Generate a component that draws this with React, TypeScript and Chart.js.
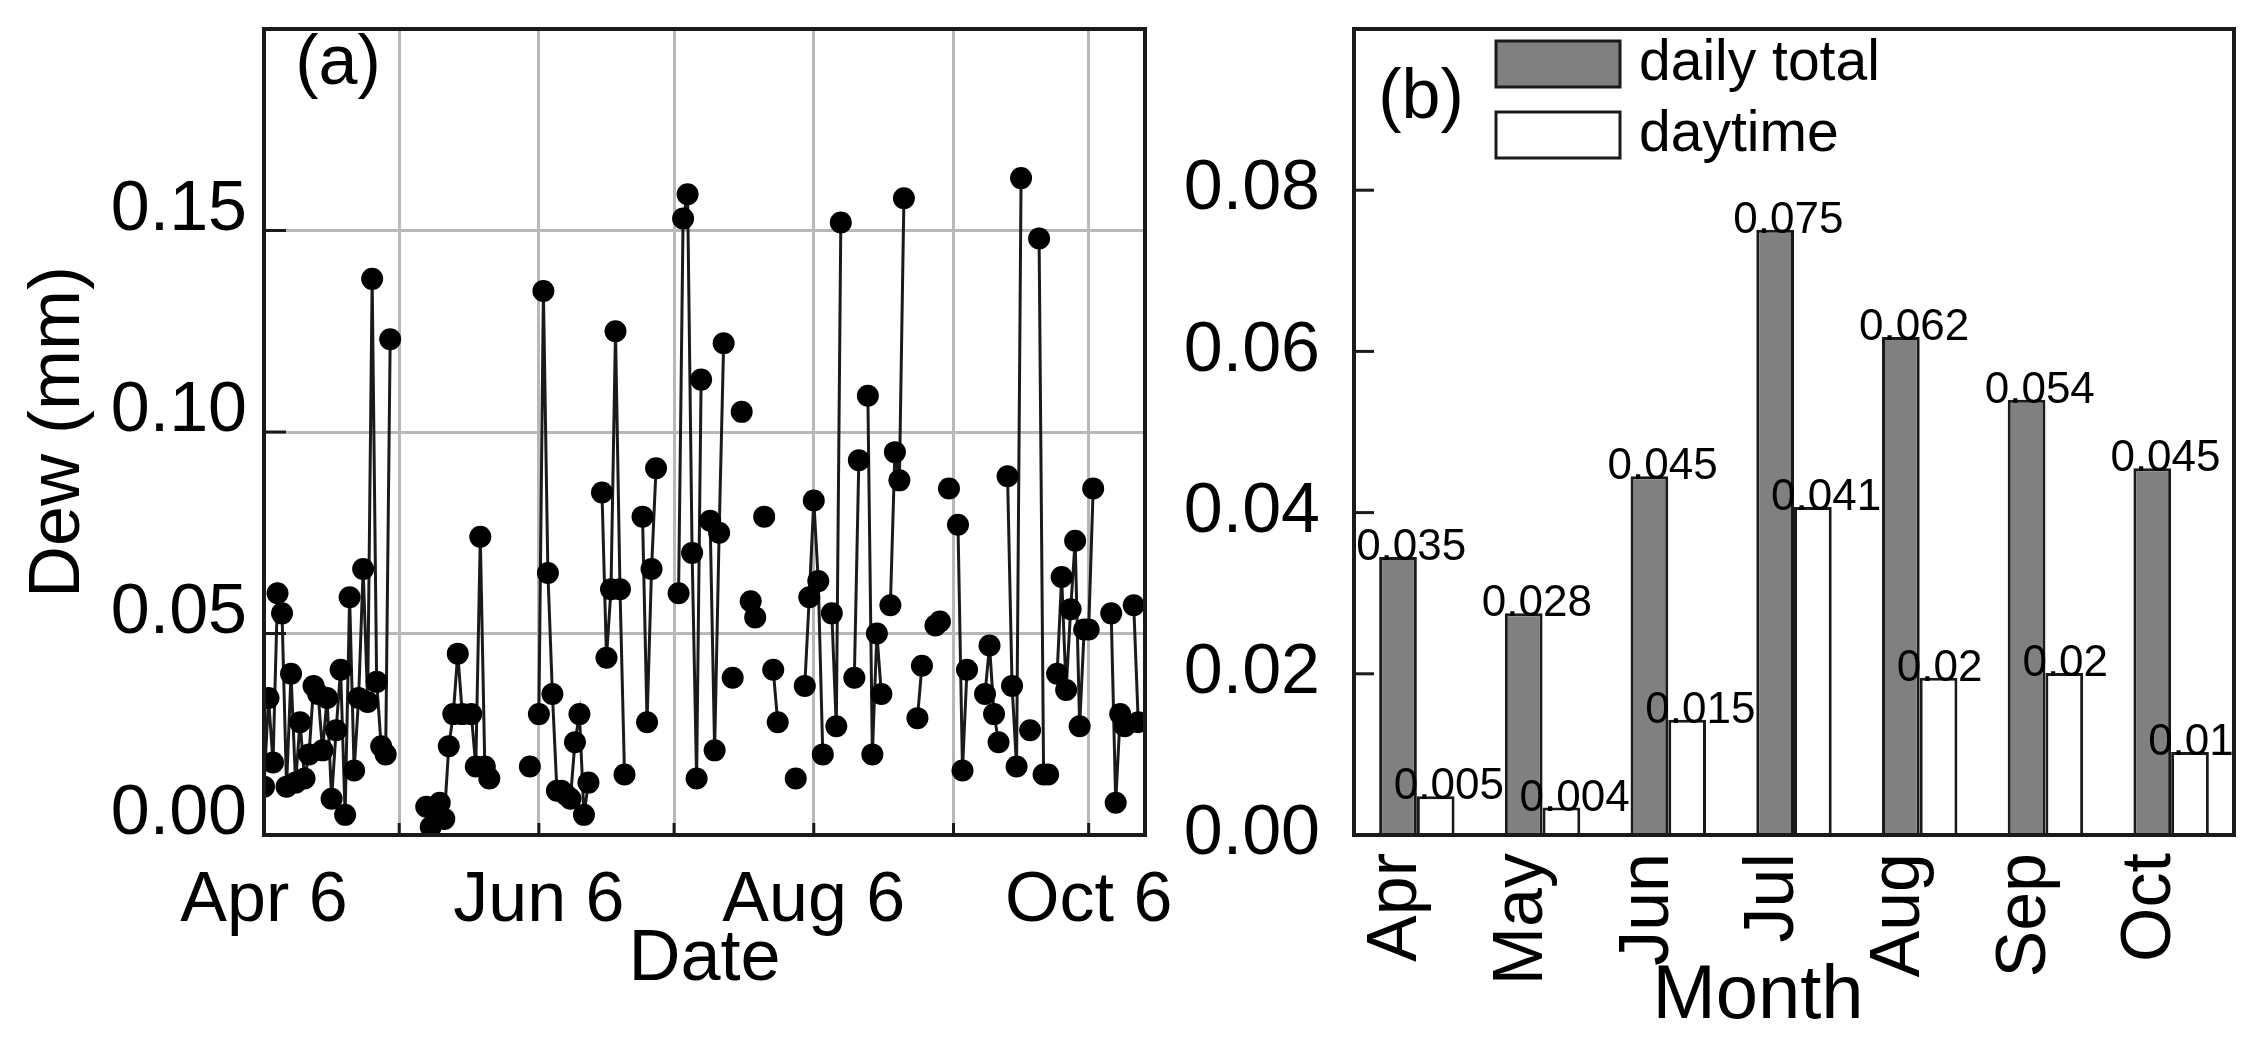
import { useEffect, useRef } from 'react';
import { Chart, registerables } from 'chart.js';

Chart.register(...registerables);

const FONT = "'Liberation Sans', Arial, sans-serif";
Chart.defaults.font.family = FONT;
Chart.defaults.color = '#000';

// (a) daily dew, day counted from Apr 6; null = no record (breaks the line)
const dewDay = [
  0, 1, 2, 3, 4, 5, 6, 7, 8, 9, 10, 11, 12, 13, 14, 15, 16, 17, 18, 19, 20, 21, 22, 23, 24, 25, 26, 27, 28, 29,
  36, 37, 38, 39, 40, 41, 42, 43, 44, 45, 46, 47, 48, 49, 50, 51,
  59, 60, 61, 62, 63, 64, 65, 66, 67, 68, 69, 70, 71, 72, 73,
  75, 76, 77, 78, 79, 80, 81, 84, 85, 86, 87, 88,
  92, 93, 94, 95, 96, 97, 98, 99, 100, 101, 102, 103, 104, 105, 106, 107, 108, 109, 110, 111, 112,
  113, 114, 115, 118, 119, 120, 121, 122, 123, 124, 125, 126, 127, 128, 129, 131, 132, 133,
  134, 135, 136, 137, 138, 139, 140, 141, 142, 143, 145, 146, 147, 149, 150, 151, 152, 153, 154, 155, 156, 157,
  160, 161, 162, 163, 164, 165, 166, 167, 168, 169, 170, 171, 172, 173, 174, 175,
  176, 177, 178, 179, 180, 181, 182, 183, 184, 185, 188, 189, 190, 191, 192, 193, 194,
];
const dewMm = [
  0.012, 0.034, 0.018, 0.06, 0.055, 0.012, 0.04, 0.013, 0.028, 0.014, 0.02, 0.037, 0.035, 0.021, 0.034, 0.009,
  0.026, 0.041, 0.005, 0.059, 0.016, 0.034, 0.066, 0.033, 0.138, 0.038, 0.022, 0.02, 0.123, null,
  0.007, 0.002, 0.007, 0.008, 0.004, 0.022, 0.03, 0.045, 0.03, null, 0.03, 0.017, 0.074, 0.017, 0.014, null,
  0.017, null, 0.03, 0.135, 0.065, 0.035, 0.011, 0.011, 0.01, 0.009, 0.023, 0.03, 0.005, 0.013, null,
  0.085, 0.044, 0.061, 0.125, 0.061, 0.015, null, 0.079, 0.028, 0.066, 0.091, null,
  0.06, 0.153, 0.159, 0.07, 0.014, 0.113, null, 0.078, 0.021, 0.075, 0.122, null, 0.039, null, 0.105, null,
  0.058, 0.054, null, 0.079, null,
  0.041, 0.028, null, 0.014, null, 0.037, 0.059, 0.083, 0.063, 0.02, null, 0.055, 0.027, 0.152, null, 0.039,
  0.093, null,
  0.109, 0.02, 0.05, 0.035, null, 0.057, 0.095, 0.088, 0.158, null, 0.029, 0.042, null, 0.052, 0.053, null,
  0.086, null, 0.077, 0.016, 0.041, null,
  0.035, 0.047, 0.03, 0.023, null, 0.089, 0.037, 0.017, 0.163, null, 0.026, null, 0.148, 0.015, 0.015, null,
  0.04, 0.064, 0.036, 0.056, 0.073, 0.027, 0.051, 0.051, 0.086, null, 0.055, 0.008, 0.03, 0.027, null, 0.057,
  0.028,
];

const monthTickDay = [0, 30, 61, 91, 122, 153, 183];
const monthTickLabel = ['Apr 6', '', 'Jun 6', '', 'Aug 6', '', 'Oct 6'];
const dewTicks = [0, 0.05, 0.1, 0.15, 0.2];
const dewTickLabel = ['0.00', '0.05', '0.10', '0.15', ''];

// (b) monthly mean dew
const months = ['Apr', 'May', 'Jun', 'Jul', 'Aug', 'Sep', 'Oct'];
const dailyTotal = [0.0345, 0.0275, 0.0445, 0.0751, 0.0618, 0.054, 0.0455];
const daytime = [0.0048, 0.0034, 0.0143, 0.0407, 0.0195, 0.0201, 0.0103];
const dailyTotalText = ['0.035', '0.028', '0.045', '0.075', '0.062', '0.054', '0.045'];
const daytimeText = ['0.005', '0.004', '0.015', '0.041', '0.02', '0.02', '0.01'];

const INK = '#1a1a1a';

// box round the plot area
const framePlugin = {
  id: 'frame',
  afterDraw(chart: any) {
    const { ctx, chartArea: a } = chart;
    ctx.save();
    ctx.strokeStyle = INK;
    ctx.lineWidth = 4;
    ctx.strokeRect(a.left, a.top, a.right - a.left, a.bottom - a.top);
    ctx.restore();
  },
};

// short tick marks pointing into the plot
const inTicksPlugin = {
  id: 'inTicks',
  afterDraw(chart: any, _args: any, opts: any) {
    const { ctx, chartArea: a, scales } = chart;
    ctx.save();
    ctx.strokeStyle = INK;
    ctx.lineWidth = 3;
    if (opts.y) {
      scales.y.ticks.forEach((t: any) => {
        const py = scales.y.getPixelForValue(t.value);
        ctx.beginPath();
        ctx.moveTo(a.left, py);
        ctx.lineTo(a.left + opts.y, py);
        ctx.stroke();
      });
    }
    if (opts.x) {
      scales.x.ticks.forEach((t: any) => {
        const px = scales.x.getPixelForValue(t.value);
        ctx.beginPath();
        ctx.moveTo(px, a.bottom);
        ctx.lineTo(px, a.bottom - opts.x);
        ctx.stroke();
      });
    }
    ctx.restore();
  },
};

// free text placed relative to the plot box: panel tag, off-centre axis title
const panelTextPlugin = {
  id: 'panelText',
  afterDraw(chart: any, _args: any, opts: any) {
    const { ctx, chartArea: a } = chart;
    ctx.save();
    ctx.fillStyle = '#000';
    ctx.textAlign = 'center';
    ctx.textBaseline = 'middle';
    (opts.items || []).forEach((it: any) => {
      ctx.font = `${it.size}px ${FONT}`;
      const x = it.fromCenter ? (a.left + a.right) / 2 + it.dx : a.left + it.dx;
      ctx.fillText(it.text, x, a.top + it.dy);
    });
    ctx.restore();
  },
};

const barTextPlugin = {
  id: 'barText',
  afterDatasetsDraw(chart: any) {
    const { ctx } = chart;
    const texts = [dailyTotalText, daytimeText];
    ctx.save();
    ctx.font = `44px ${FONT}`;
    ctx.fillStyle = '#000';
    ctx.textAlign = 'left';
    ctx.textBaseline = 'alphabetic';
    chart.data.datasets.forEach((_d: any, di: number) => {
      chart.getDatasetMeta(di).data.forEach((bar: any, i: number) => {
        ctx.fillText(texts[di][i], bar.x - bar.width / 2 - 23, bar.y + 3);
      });
    });
    ctx.restore();
  },
};

const boxLegendPlugin = {
  id: 'boxLegend',
  afterDraw(chart: any) {
    const { ctx, chartArea: a } = chart;
    ctx.save();
    ctx.font = `57px ${FONT}`;
    ctx.textBaseline = 'middle';
    ctx.textAlign = 'left';
    chart.data.datasets.forEach((d: any, i: number) => {
      const x = a.left + 142;
      const y = a.top + 12 + i * 71;
      ctx.fillStyle = d.backgroundColor;
      ctx.fillRect(x, y, 124, 46);
      ctx.strokeStyle = INK;
      ctx.lineWidth = 3;
      ctx.strokeRect(x, y, 124, 46);
      ctx.fillStyle = '#000';
      ctx.fillText(d.label, x + 143, y + 23);
    });
    ctx.restore();
  },
};

// keep the plot box where the reference has it, whatever the labels overhang
const noPadY = (w: number) => (s: any) => {
  s.width = w;
  s.paddingTop = 0;
  s.paddingBottom = 0;
};
const noPadX = (h: number) => (s: any) => {
  s.height = h;
  s.paddingLeft = 0;
  s.paddingRight = 0;
};

function DewSeries() {
  const canvasRef = useRef(null as HTMLCanvasElement | null);

  useEffect(() => {
    if (!canvasRef.current) return;
    const chart = new Chart(canvasRef.current, {
      type: 'line',
      data: {
        datasets: [
          {
            data: dewDay.map((d, i) => ({ x: d, y: dewMm[i] })) as any,
            borderColor: INK,
            borderWidth: 3,
            pointRadius: 11,
            pointBackgroundColor: '#000',
            pointBorderColor: '#000',
            pointBorderWidth: 0,
            spanGaps: false,
            tension: 0,
          },
        ],
      },
      options: {
        animation: false,
        responsive: true,
        maintainAspectRatio: false,
        layout: { padding: { top: 29, right: 35, left: 0, bottom: 0 } },
        plugins: {
          legend: { display: false },
          tooltip: { enabled: false },
          inTicks: { y: 22, x: 12 },
          panelText: { items: [{ text: '(a)', size: 70, dx: 74, dy: 36 }] },
        } as any,
        scales: {
          x: {
            type: 'linear',
            min: 0,
            max: 195.5,
            afterBuildTicks: (s: any) => {
              s.ticks = monthTickDay.map(v => ({ value: v }));
            },
            afterFit: noPadX(227),
            grid: { color: '#b8b8b8', lineWidth: 3, drawTicks: false },
            border: { display: false },
            ticks: {
              autoSkip: false,
              maxRotation: 0,
              padding: 25,
              font: { size: 70 },
              color: '#000',
              callback: (_v: any, i: number) => monthTickLabel[i],
            },
            title: { display: true, text: 'Date', font: { size: 72 }, color: '#000', padding: { top: 0, bottom: 59 } },
          },
          y: {
            min: 0,
            max: 0.2,
            afterBuildTicks: (s: any) => {
              s.ticks = dewTicks.map(v => ({ value: v }));
            },
            afterFit: noPadY(264),
            grid: { color: '#b8b8b8', lineWidth: 3, drawTicks: false },
            border: { display: false },
            ticks: {
              padding: 17,
              labelOffset: -20,
              font: { size: 70 },
              color: '#000',
              callback: (_v: any, i: number) => dewTickLabel[i],
            },
            title: { display: true, text: 'Dew (mm)', font: { size: 72 }, color: '#000', padding: { top: 16, bottom: 0 } },
          },
        },
      },
      plugins: [framePlugin, inTicksPlugin, panelTextPlugin],
    });
    return () => chart.destroy();
  }, []);

  return (
    <div style={{ position: 'absolute', left: 0, top: 0, width: 1180, height: 1062 }}>
      <canvas ref={canvasRef} />
    </div>
  );
}

function MonthlyBars() {
  const canvasRef = useRef(null as HTMLCanvasElement | null);

  useEffect(() => {
    if (!canvasRef.current) return;
    const chart = new Chart(canvasRef.current, {
      type: 'bar',
      data: {
        labels: months,
        datasets: [
          { label: 'daily total', data: dailyTotal, backgroundColor: '#808080', borderColor: INK, borderWidth: 3 },
          { label: 'daytime', data: daytime, backgroundColor: '#ffffff', borderColor: INK, borderWidth: 3 },
        ],
      },
      options: {
        animation: false,
        responsive: true,
        maintainAspectRatio: false,
        layout: { padding: { top: 29, right: 24, left: 0, bottom: 0 } },
        datasets: { bar: { categoryPercentage: 0.6, barPercentage: 1 } },
        plugins: {
          legend: { display: false },
          tooltip: { enabled: false },
          inTicks: { y: 20 },
          panelText: {
            items: [
              { text: '(b)', size: 70, dx: 67, dy: 70 },
              { text: 'Month', size: 76, dx: -36, dy: 968, fromCenter: true },
            ],
          },
        } as any,
        scales: {
          x: {
            afterFit: noPadX(227),
            grid: { display: false },
            border: { display: false },
            ticks: {
              minRotation: 90,
              maxRotation: 90,
              padding: 10,
              labelOffset: -20,
              font: { size: 70 },
              color: '#000',
            },
          },
          y: {
            min: 0,
            max: 0.1,
            afterFit: noPadY(174),
            grid: { display: false },
            border: { display: false },
            ticks: {
              stepSize: 0.02,
              padding: 26,
              font: { size: 70 },
              color: '#000',
              callback: (v: any) => (v > 0.09 ? '' : Number(v).toFixed(2)),
            },
          },
        },
      },
      plugins: [barTextPlugin, framePlugin, inTicksPlugin, panelTextPlugin, boxLegendPlugin],
    });
    return () => chart.destroy();
  }, []);

  return (
    <div style={{ position: 'absolute', left: 1180, top: 0, width: 1078, height: 1062 }}>
      <canvas ref={canvasRef} />
    </div>
  );
}

export default function App() {
  return (
    <div style={{ position: 'absolute', left: 0, top: 0, width: 2258, height: 1062, background: '#fff' }}>
      <DewSeries />
      <MonthlyBars />
    </div>
  );
}
